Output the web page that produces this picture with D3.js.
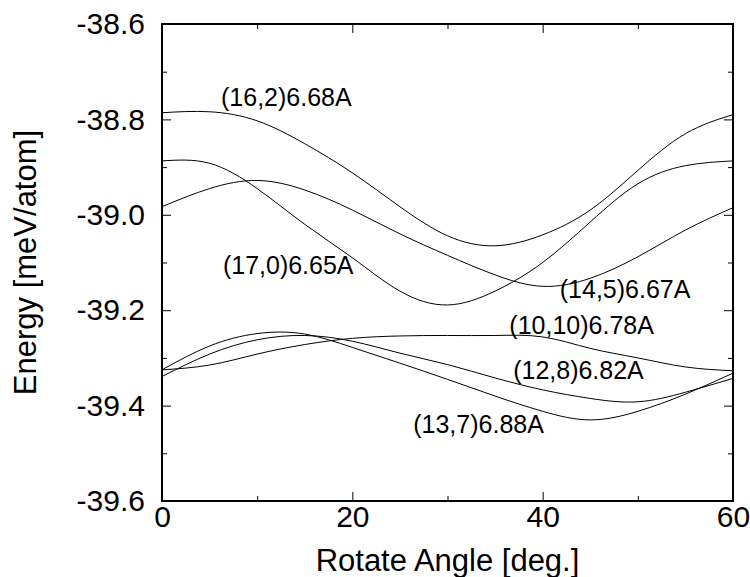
<!DOCTYPE html>
<html>
<head>
<meta charset="utf-8">
<script src="https://cdn.jsdelivr.net/npm/d3@7"></script>
<style>
    body { margin: 0; background: #fff; }
    text { font-family: "Liberation Sans", Arial, sans-serif; fill: #000; }
</style>
</head>
<body>
<div id="chart"></div>
<script>
// rotate angle in degrees, read at every 5 deg
const angles = [0, 5, 10, 15, 20, 25, 30, 35, 40, 45, 50, 55, 60];

// energy [meV/atom] per tube
const e16_2 = [-38.786, -38.784, -38.803, -38.851, -38.912, -38.983, -39.044, -39.065, -39.042, -38.990, -38.907, -38.830, -38.790];
const e17_0 = [-38.887, -38.892, -38.945, -39.020, -39.090, -39.160, -39.189, -39.160, -39.100, -39.015, -38.935, -38.897, -38.887];
const e14_5 = [-38.983, -38.945, -38.928, -38.948, -38.990, -39.040, -39.085, -39.126, -39.150, -39.133, -39.088, -39.032, -38.985];
const e10_10 = [-39.325, -39.315, -39.292, -39.272, -39.259, -39.254, -39.253, -39.253, -39.256, -39.280, -39.300, -39.319, -39.327];
const e12_8 = [-39.339, -39.292, -39.262, -39.253, -39.265, -39.290, -39.314, -39.342, -39.367, -39.385, -39.392, -39.372, -39.343];
const e13_7 = [-39.325, -39.275, -39.249, -39.250, -39.278, -39.311, -39.345, -39.380, -39.412, -39.430, -39.412, -39.376, -39.332];

const seriesNames = ["(16,2)6.68A", "(17,0)6.65A", "(14,5)6.67A", "(10,10)6.78A", "(12,8)6.82A", "(13,7)6.88A"];
const seriesValues = [e16_2, e17_0, e14_5, e10_10, e12_8, e13_7];

const xTicks = [0, 20, 40, 60];
const xMinorTicks = [10, 30, 50];
const yTicks = [-39.6, -39.4, -39.2, -39.0, -38.8, -38.6];
const yMinorTicks = [-39.5, -39.3, -39.1, -38.9, -38.7];

const xTitle = "Rotate Angle [deg.]";
const yTitle = "Energy [meV/atom]";

const fullW = 750, fullH = 577;
const margin = { top: 24, right: 17, bottom: 76, left: 162 };
const width = fullW - margin.left - margin.right;
const height = fullH - margin.top - margin.bottom;

const svg = d3.select("#chart").append("svg")
    .attr("width", fullW)
    .attr("height", fullH);

const g = svg.append("g").attr("transform", "translate(" + margin.left + "," + margin.top + ")");

const x = d3.scaleLinear().domain([0, 60]).range([0, width]);
const y = d3.scaleLinear().domain([-39.6, -38.6]).range([height, 0]);

// axes, ticks pointing inward on all four sides
function styleAxis(sel) {
    sel.select(".domain").remove();
    sel.selectAll("line").attr("stroke", "#000").attr("stroke-width", 1);
    sel.selectAll("text").attr("font-size", 30).attr("fill", "#000");
}

g.append("g")
    .call(d3.axisLeft(y).tickValues(yTicks).tickSize(-9).tickPadding(17).tickFormat(d => d.toFixed(1)))
    .call(styleAxis);
g.append("g")
    .call(d3.axisLeft(y).tickValues(yMinorTicks).tickSize(-5).tickFormat(""))
    .call(styleAxis);
g.append("g").attr("transform", "translate(" + width + ",0)")
    .call(d3.axisRight(y).tickValues(yTicks).tickSize(-9).tickFormat(""))
    .call(styleAxis);
g.append("g").attr("transform", "translate(" + width + ",0)")
    .call(d3.axisRight(y).tickValues(yMinorTicks).tickSize(-5).tickFormat(""))
    .call(styleAxis);

g.append("g").attr("transform", "translate(0," + height + ")")
    .call(d3.axisBottom(x).tickValues(xTicks).tickSize(-9).tickPadding(5).tickFormat(d3.format("d")))
    .call(styleAxis);
g.append("g").attr("transform", "translate(0," + height + ")")
    .call(d3.axisBottom(x).tickValues(xMinorTicks).tickSize(-5).tickFormat(""))
    .call(styleAxis);
g.append("g")
    .call(d3.axisTop(x).tickValues(xTicks).tickSize(-9).tickFormat(""))
    .call(styleAxis);
g.append("g")
    .call(d3.axisTop(x).tickValues(xMinorTicks).tickSize(-5).tickFormat(""))
    .call(styleAxis);

// curves
const line = d3.line()
    .x((d, i) => x(angles[i]))
    .y(d => y(d))
    .curve(d3.curveNatural);

g.selectAll("path.curve").data(seriesValues).enter().append("path")
    .attr("class", "curve")
    .attr("d", d => line(d))
    .attr("fill", "none")
    .attr("stroke", "#000")
    .attr("stroke-width", 1);

// labels placed next to their curves (baseline position in data units)
const labelAt = [
    { angle: 6.2, value: -38.772 },
    { angle: 6.4, value: -39.124 },
    { angle: 41.8, value: -39.175 },
    { angle: 36.5, value: -39.25 },
    { angle: 36.9, value: -39.345 },
    { angle: 26.4, value: -39.457 }
];

g.selectAll("text.label").data(seriesNames).enter().append("text")
    .attr("class", "label")
    .attr("x", (d, i) => x(labelAt[i].angle))
    .attr("y", (d, i) => y(labelAt[i].value))
    .attr("font-size", 25)
    .text(d => d);

// frame
g.append("rect")
    .attr("width", width)
    .attr("height", height)
    .attr("fill", "none")
    .attr("stroke", "#000")
    .attr("stroke-width", 2);

// axis titles
svg.append("text")
    .attr("x", margin.left + width / 2)
    .attr("y", 571)
    .attr("text-anchor", "middle")
    .attr("font-size", 31)
    .text(xTitle);

svg.append("text")
    .attr("transform", "translate(36," + (margin.top + height / 2) + ") rotate(-90)")
    .attr("text-anchor", "middle")
    .attr("font-size", 31)
    .text(yTitle);
</script>
</body>
</html>
